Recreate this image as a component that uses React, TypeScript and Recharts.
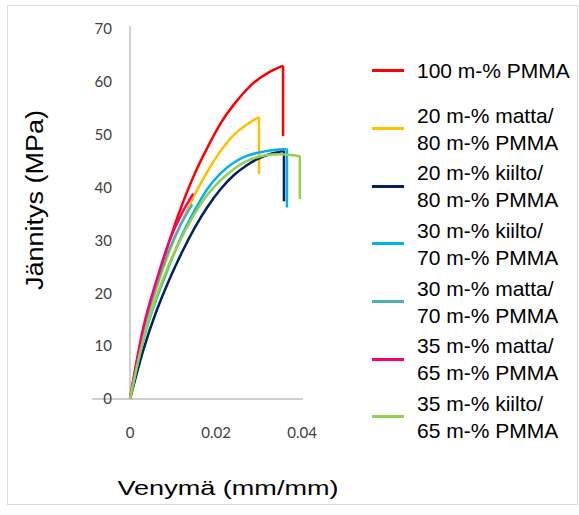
import { Legend, Line, LineChart, ReferenceLine, XAxis, YAxis } from "recharts";

// luettu kuvasta: venymä (mm/mm) ja jännitys (MPa) kullekin näytteelle
const names = [
  "100 m-% PMMA",
  "20 m-% matta/\n80 m-% PMMA",
  "20 m-% kiilto/\n80 m-% PMMA",
  "30 m-% kiilto/\n70 m-% PMMA",
  "30 m-% matta/\n70 m-% PMMA",
  "35 m-% matta/\n65 m-% PMMA",
  "35 m-% kiilto/\n65 m-% PMMA",
];
const colors = ["#ff0000", "#ffc000", "#002060", "#00b0f0", "#4bacc6", "#ff0066", "#92d050"];

const strainPmma = [0, 0.003, 0.006, 0.009, 0.012, 0.015, 0.018, 0.021, 0.024, 0.028, 0.032, 0.0356];
const stressPmma = [0, 12.5, 21.5, 29.5, 36.5, 42.5, 47.5, 52, 55.5, 59.2, 61.6, 63];

const strainMatta20 = [0, 0.003, 0.006, 0.009, 0.012, 0.015, 0.018, 0.021, 0.024, 0.027, 0.03];
const stressMatta20 = [0, 12, 20.5, 27.5, 33.3, 38.5, 43, 46.8, 49.8, 51.8, 53.3];

const strainKiilto20 = [0, 0.003, 0.006, 0.009, 0.012, 0.015, 0.018, 0.021, 0.024, 0.027, 0.03, 0.033, 0.0358];
const stressKiilto20 = [0, 9, 16.3, 22.3, 27.6, 32.3, 36.3, 39.6, 42.2, 44.1, 45.5, 46.4, 46.9];

const strainKiilto30 = [0, 0.003, 0.006, 0.009, 0.012, 0.015, 0.018, 0.021, 0.024, 0.027, 0.03, 0.033, 0.036, 0.0365];
const stressKiilto30 = [0, 10.8, 18.6, 25, 30.8, 35.6, 39.7, 42.6, 44.6, 45.9, 46.6, 47, 47.2, 47.1];

const strainMatta30 = [0, 0.003, 0.006, 0.009, 0.012, 0.0145];
const stressMatta30 = [0, 12.5, 21, 28, 33.3, 36.8];

const strainMatta35 = [0, 0.003, 0.006, 0.009, 0.012, 0.0147];
const stressMatta35 = [0, 13.2, 22, 29.5, 35, 38.8];

const strainKiilto35 = [0, 0.003, 0.006, 0.009, 0.012, 0.015, 0.018, 0.021, 0.024, 0.027, 0.03, 0.033, 0.036, 0.0395];
const stressKiilto35 = [0, 11, 19, 25.3, 30.5, 35, 38.6, 41.3, 43.4, 44.9, 45.8, 46.2, 46.2, 45.9];

// murtuma: venymä ja jännitys ennen ja jälkeen pudotuksen (null = ei pudotusta)
const breakStrain = [0.0356, 0.03, 0.0358, 0.0365, null, null, 0.0395];
const breakStressFrom = [63, 53.3, 46.9, 47.1, null, null, 45.9];
const breakStressTo = [49.7, 42.5, 37.4, 36.2, null, null, 37.8];

const xTicks = [0, 0.02, 0.04];
const yTicks = [0, 10, 20, 30, 40, 50, 60, 70];

const toPoints = (xs: number[], ys: number[]) => xs.map((x, i) => ({ x, y: ys[i] }));

const series = [
  toPoints(strainPmma, stressPmma),
  toPoints(strainMatta20, stressMatta20),
  toPoints(strainKiilto20, stressKiilto20),
  toPoints(strainKiilto30, stressKiilto30),
  toPoints(strainMatta30, stressMatta30),
  toPoints(strainMatta35, stressMatta35),
  toPoints(strainKiilto35, stressKiilto35),
];

const drops = breakStrain.map((x, i) =>
  x == null
    ? null
    : [
        { x, y: breakStressFrom[i] },
        { x, y: breakStressTo[i] },
      ]
);

const tickStyle = { fill: "#404040", fontSize: 15, fontFamily: "Lato, sans-serif" };
const labelFont = "'Liberation Sans', Arial, sans-serif";

function renderLegend(props: any) {
  const payload = (props.payload || [])
    .filter((e: any) => names.includes(e.value))
    .sort((a: any, b: any) => names.indexOf(a.value) - names.indexOf(b.value));
  return (
    <div style={{ fontFamily: labelFont, fontSize: 21, color: "#000" }}>
      {payload.map((entry: any) => (
        <div key={entry.value} style={{ display: "flex", alignItems: "center", height: 57.7 }}>
          <span
            style={{
              display: "inline-block",
              width: 32,
              height: 3,
              background: entry.color,
              marginRight: 13,
              flexShrink: 0,
            }}
          />
          <div style={{ lineHeight: "27px", whiteSpace: "nowrap" }}>
            {String(entry.value)
              .split("\n")
              .map((l) => (
                <div key={l}>{l}</div>
              ))}
          </div>
        </div>
      ))}
    </div>
  );
}

export default function App() {
  return (
    <div
      style={{
        position: "absolute",
        left: 7,
        top: 5,
        width: 571,
        height: 500,
        boxSizing: "border-box",
        border: "1px solid #dcdcdc",
        background: "#fff",
      }}
    >
      <div style={{ position: "absolute", left: 0, top: 2 }}>
        <LineChart width={565} height={495} margin={{ top: 18, right: 270, bottom: 74, left: 24 }}>
          <XAxis
            type="number"
            dataKey="x"
            domain={[-0.00884, 0.04023]}
            allowDataOverflow
            ticks={xTicks}
            tickFormatter={(v) => String(v)}
            tick={tickStyle}
            tickLine={false}
            tickMargin={22}
            height={30}
            axisLine={{ stroke: "#bfbfbf", strokeWidth: 1.5 }}
            label={() => (
              <text
                x={220}
                y={479}
                textAnchor="middle"
                dominantBaseline="central"
                fontFamily={labelFont}
                fontSize={21}
                textLength={221}
                lengthAdjust="spacingAndGlyphs"
                fill="#000"
              >
                Venymä (mm/mm)
              </text>
            )}
          />
          <YAxis
            type="number"
            dataKey="y"
            domain={[0, 70.5]}
            ticks={yTicks}
            tick={tickStyle}
            tickLine={false}
            axisLine={false}
            tickMargin={-26}
            width={60}
            label={() => (
              <text
                x={27}
                y={192}
                transform="rotate(-90 27 192)"
                textAnchor="middle"
                dominantBaseline="central"
                fontFamily={labelFont}
                fontSize={23}
                textLength={180}
                lengthAdjust="spacingAndGlyphs"
                fill="#000"
              >
                Jännitys (MPa)
              </text>
            )}
          />
          <ReferenceLine x={0} stroke="#bfbfbf" strokeWidth={1.5} />
          {series.flatMap((pts, i) => {
            const out = [
              <Line
                key={names[i]}
                data={pts}
                dataKey="y"
                name={names[i]}
                type="natural"
                stroke={colors[i]}
                strokeWidth={2.5}
                dot={false}
                activeDot={false}
                isAnimationActive={false}
              />,
            ];
            const d = drops[i];
            if (d) {
              out.push(
                <Line
                  key={names[i] + "-drop"}
                  data={d}
                  dataKey="y"
                  name={names[i] + " drop"}
                  type="linear"
                  stroke={colors[i]}
                  strokeWidth={2.5}
                  dot={false}
                  activeDot={false}
                  legendType="none"
                  isAnimationActive={false}
                />
              );
            }
            return out;
          })}
          <Legend
            layout="horizontal"
            verticalAlign="middle"
            align="center"
            content={renderLegend}
            wrapperStyle={{ left: 364, top: 34, width: 200, height: 410 }}
          />
        </LineChart>
      </div>
    </div>
  );
}
